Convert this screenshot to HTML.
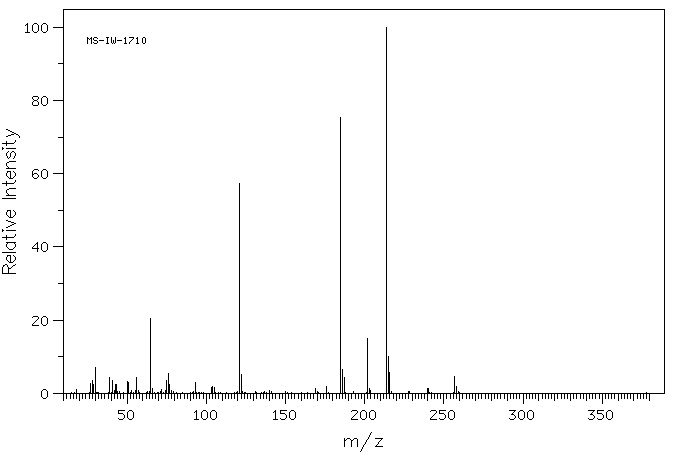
<!DOCTYPE html>
<html lang="en"><head><meta charset="utf-8">
<title>MS-IW-1710 mass spectrum</title>
<style>
html,body{margin:0;padding:0;background:#fff;overflow:hidden;font-family:"Liberation Sans",sans-serif}
svg{display:block}
svg text{font-family:"Liberation Sans",sans-serif;font-size:12px;fill:#000;fill-opacity:0;stroke:none}
</style>
</head><body>
<svg width="676" height="455" viewBox="0 0 676 455" shape-rendering="crispEdges">
<title>Mass spectrum MS-IW-1710: Relative Intensity vs m/z</title>
<rect width="676" height="455" fill="#fff"/>
<path fill="#000" d="M63 9h602v1h-602zM63 10h1v391h-1zM664 10h1v384h-1zM27 23h1v10h-1zM34 23h3v1h-3zM43 23h3v1h-3zM26 24h1v1h-1zM33 24h1v1h-1zM37 24h1v1h-1zM42 24h1v1h-1zM46 24h1v1h-1zM25 25h1v1h-1zM32 25h1v6h-1zM38 25h1v6h-1zM41 25h1v6h-1zM47 25h1v6h-1zM53 27h10v1h-10zM386 27h1v372h-1zM33 31h1v1h-1zM37 31h1v1h-1zM42 31h1v1h-1zM46 31h1v1h-1zM25 32h2v1h-2zM28 32h2v1h-2zM34 32h3v1h-3zM43 32h3v1h-3zM87 37h1v7h-1zM91 37h1v7h-1zM94 37h3v1h-3zM106 37h3v1h-3zM111 37h1v6h-1zM115 37h1v6h-1zM125 37h1v7h-1zM129 37h5v1h-5zM137 37h1v7h-1zM143 37h2v1h-2zM88 38h1v1h-1zM90 38h1v1h-1zM93 38h1v2h-1zM97 38h1v1h-1zM107 38h1v6h-1zM124 38h1v1h-1zM133 38h1v1h-1zM136 38h1v1h-1zM142 38h1v5h-1zM145 38h1v5h-1zM89 39h1v1h-1zM132 39h1v1h-1zM94 40h3v1h-3zM99 40h5v1h-5zM113 40h1v3h-1zM117 40h5v1h-5zM131 40h1v1h-1zM97 41h1v2h-1zM130 41h1v1h-1zM93 42h1v1h-1zM129 42h1v2h-1zM94 43h3v1h-3zM106 43h1v1h-1zM108 43h1v1h-1zM112 43h1v1h-1zM114 43h1v1h-1zM124 43h1v1h-1zM126 43h1v1h-1zM136 43h1v1h-1zM138 43h1v1h-1zM143 43h2v1h-2zM58 63h5v1h-5zM33 96h5v1h-5zM43 96h3v1h-3zM32 97h1v2h-1zM38 97h1v2h-1zM42 97h1v1h-1zM46 97h1v1h-1zM41 98h1v6h-1zM47 98h1v6h-1zM33 99h1v1h-1zM37 99h1v1h-1zM34 100h3v1h-3zM53 100h10v1h-10zM33 101h1v1h-1zM37 101h1v1h-1zM32 102h1v3h-1zM38 102h1v3h-1zM42 104h1v1h-1zM46 104h1v1h-1zM33 105h5v1h-5zM43 105h3v1h-3zM340 117h1v277h-1zM6 129h2v1h-2zM8 130h2v1h-2zM10 131h2v1h-2zM12 132h2v1h-2zM14 133h2v1h-2zM11 134h3v1h-3zM16 134h2v1h-2zM8 135h3v1h-3zM18 135h1v1h-1zM6 136h2v1h-2zM19 136h1v2h-1zM58 137h5v1h-5zM15 140h1v2h-1zM6 141h1v5h-1zM14 142h1v1h-1zM2 143h4v1h-4zM7 143h7v1h-7zM2 147h1v3h-1zM3 148h1v1h-1zM6 148h10v1h-10zM8 151h1v1h-1zM12 151h2v1h-2zM7 152h1v1h-1zM11 152h1v1h-1zM14 152h1v1h-1zM6 153h1v3h-1zM10 153h1v4h-1zM15 153h1v3h-1zM7 156h1v2h-1zM14 156h1v2h-1zM9 157h1v1h-1zM8 158h1v1h-1zM13 158h1v1h-1zM9 161h7v1h-7zM7 162h2v1h-2zM6 163h1v3h-1zM7 166h1v1h-1zM8 167h1v2h-1zM6 168h2v1h-2zM9 168h7v1h-7zM34 169h4v1h-4zM43 169h3v1h-3zM33 170h1v1h-1zM38 170h1v1h-1zM42 170h1v1h-1zM46 170h1v1h-1zM7 171h4v1h-4zM13 171h1v1h-1zM32 171h1v6h-1zM41 171h1v6h-1zM47 171h1v6h-1zM7 172h1v1h-1zM10 172h1v7h-1zM14 172h1v1h-1zM6 173h1v3h-1zM15 173h1v3h-1zM34 173h3v1h-3zM53 173h10v1h-10zM33 174h1v1h-1zM37 174h1v1h-1zM38 175h1v2h-1zM7 176h1v1h-1zM14 176h1v1h-1zM8 177h1v1h-1zM13 177h1v1h-1zM33 177h1v1h-1zM37 177h1v1h-1zM42 177h1v1h-1zM46 177h1v1h-1zM9 178h1v1h-1zM11 178h2v1h-2zM34 178h3v1h-3zM43 178h3v1h-3zM15 180h1v2h-1zM6 181h1v5h-1zM14 182h1v1h-1zM2 183h4v1h-4zM7 183h7v1h-7zM239 183h1v211h-1zM9 188h7v1h-7zM7 189h2v1h-2zM6 190h1v3h-1zM7 193h1v1h-1zM8 194h1v2h-1zM6 195h2v1h-2zM9 195h7v1h-7zM2 198h14v1h-14zM7 210h4v1h-4zM13 210h1v1h-1zM58 210h5v1h-5zM7 211h1v1h-1zM10 211h1v7h-1zM14 211h1v1h-1zM6 212h1v3h-1zM15 212h1v3h-1zM7 215h1v1h-1zM14 215h1v1h-1zM8 216h1v1h-1zM13 216h1v1h-1zM9 217h1v1h-1zM11 217h2v1h-2zM6 220h2v1h-2zM8 221h3v1h-3zM11 222h3v1h-3zM14 223h2v1h-2zM12 224h2v1h-2zM10 225h2v1h-2zM8 226h2v1h-2zM6 227h2v1h-2zM2 229h1v3h-1zM3 230h1v1h-1zM6 230h10v1h-10zM15 234h1v2h-1zM6 235h1v5h-1zM14 236h1v1h-1zM2 237h4v1h-4zM7 237h7v1h-7zM6 242h10v1h-10zM37 242h1v10h-1zM43 242h3v1h-3zM7 243h1v1h-1zM14 243h1v1h-1zM36 243h1v1h-1zM42 243h1v1h-1zM46 243h1v1h-1zM6 244h1v3h-1zM15 244h1v3h-1zM35 244h1v1h-1zM41 244h1v6h-1zM47 244h1v6h-1zM34 245h1v1h-1zM33 246h1v1h-1zM53 246h10v1h-10zM7 247h1v1h-1zM14 247h1v1h-1zM32 247h1v2h-1zM8 248h1v1h-1zM13 248h1v1h-1zM33 248h4v1h-4zM38 248h1v1h-1zM9 249h4v1h-4zM42 250h1v1h-1zM46 250h1v1h-1zM43 251h3v1h-3zM2 252h14v1h-14zM7 255h4v1h-4zM13 255h1v1h-1zM7 256h1v1h-1zM10 256h1v7h-1zM14 256h1v1h-1zM6 257h1v3h-1zM15 257h1v3h-1zM7 260h1v1h-1zM14 260h1v1h-1zM8 261h1v1h-1zM13 261h1v1h-1zM9 262h1v1h-1zM11 262h2v1h-2zM5 264h2v1h-2zM15 264h1v1h-1zM3 265h2v1h-2zM7 265h1v2h-1zM13 265h2v1h-2zM3 266h1v1h-1zM12 266h1v1h-1zM2 267h1v7h-1zM8 267h1v7h-1zM11 267h1v1h-1zM9 268h2v1h-2zM3 273h5v1h-5zM9 273h7v1h-7zM58 283h5v1h-5zM33 316h5v1h-5zM43 316h3v1h-3zM32 317h1v1h-1zM38 317h1v2h-1zM42 317h1v1h-1zM46 317h1v1h-1zM41 318h1v6h-1zM47 318h1v6h-1zM150 318h1v76h-1zM37 319h1v1h-1zM36 320h1v1h-1zM53 320h10v1h-10zM35 321h1v1h-1zM34 322h1v1h-1zM33 323h1v1h-1zM32 324h1v2h-1zM42 324h1v1h-1zM46 324h1v1h-1zM33 325h6v1h-6zM43 325h3v1h-3zM367 338h1v61h-1zM58 356h5v1h-5zM388 356h1v38h-1zM95 367h1v34h-1zM342 369h1v30h-1zM389 372h1v27h-1zM168 373h1v26h-1zM241 374h1v25h-1zM454 376h1v18h-1zM109 377h1v17h-1zM136 377h1v22h-1zM344 377h1v17h-1zM92 380h1v19h-1zM112 380h1v14h-1zM166 380h1v14h-1zM127 381h1v23h-1zM128 382h1v12h-1zM195 382h1v12h-1zM90 383h1v11h-1zM93 384h1v10h-1zM115 384h1v10h-1zM116 384h1v10h-1zM169 384h1v10h-1zM212 386h1v13h-1zM326 386h1v13h-1zM456 386h1v13h-1zM211 387h1v7h-1zM214 387h1v7h-1zM152 388h1v11h-1zM315 388h1v6h-1zM369 388h1v6h-1zM427 388h1v13h-1zM428 388h1v6h-1zM43 389h3v1h-3zM76 389h1v10h-1zM161 389h1v10h-1zM42 390h1v1h-1zM46 390h1v1h-1zM114 390h1v9h-1zM131 390h1v4h-1zM135 390h1v4h-1zM138 390h1v4h-1zM165 390h1v9h-1zM171 390h1v9h-1zM269 390h1v11h-1zM370 390h1v9h-1zM41 391h1v6h-1zM47 391h1v6h-1zM117 391h1v8h-1zM119 391h1v3h-1zM147 391h1v3h-1zM149 391h1v8h-1zM160 391h1v3h-1zM173 391h1v3h-1zM193 391h1v8h-1zM237 391h1v10h-1zM242 391h1v3h-1zM255 391h1v3h-1zM264 391h1v3h-1zM271 391h1v3h-1zM285 391h1v13h-1zM317 391h1v10h-1zM353 391h1v3h-1zM391 391h1v3h-1zM408 391h1v8h-1zM409 391h1v3h-1zM458 391h1v3h-1zM71 392h1v2h-1zM74 392h1v2h-1zM89 392h1v7h-1zM96 392h3v1h-3zM108 392h1v7h-1zM111 392h1v9h-1zM123 392h1v7h-1zM130 392h1v7h-1zM133 392h1v7h-1zM139 392h1v7h-1zM146 392h1v7h-1zM154 392h1v2h-1zM157 392h2v1h-2zM163 392h1v2h-1zM176 392h1v2h-1zM182 392h1v2h-1zM190 392h1v9h-1zM192 392h1v2h-1zM196 392h1v7h-1zM198 392h2v1h-2zM201 392h1v2h-1zM203 392h1v7h-1zM215 392h1v7h-1zM218 392h1v7h-1zM220 392h1v2h-1zM226 392h1v2h-1zM234 392h1v7h-1zM236 392h1v2h-1zM244 392h1v7h-1zM245 392h1v2h-1zM256 392h1v7h-1zM261 392h1v2h-1zM263 392h1v7h-1zM266 392h1v7h-1zM287 392h1v2h-1zM291 392h1v7h-1zM301 392h1v9h-1zM307 392h1v7h-1zM318 392h1v2h-1zM328 392h1v2h-1zM345 392h1v7h-1zM366 392h1v2h-1zM429 392h1v2h-1zM431 392h1v7h-1zM453 392h1v7h-1zM459 392h1v9h-1zM646 392h1v7h-1zM53 393h10v1h-10zM64 393h7v1h-7zM72 393h2v1h-2zM75 393h1v1h-1zM77 393h12v1h-12zM91 393h1v1h-1zM94 393h1v1h-1zM96 393h12v1h-12zM110 393h1v1h-1zM113 393h1v1h-1zM118 393h1v1h-1zM120 393h1v6h-1zM121 393h2v1h-2zM124 393h3v1h-3zM129 393h1v1h-1zM132 393h1v1h-1zM134 393h1v1h-1zM137 393h1v1h-1zM140 393h6v1h-6zM148 393h1v1h-1zM151 393h1v1h-1zM153 393h1v1h-1zM155 393h1v6h-1zM156 393h4v1h-4zM162 393h1v1h-1zM164 393h1v1h-1zM167 393h1v1h-1zM170 393h1v1h-1zM172 393h1v1h-1zM174 393h1v8h-1zM175 393h1v1h-1zM177 393h1v6h-1zM178 393h4v1h-4zM183 393h7v1h-7zM191 393h1v1h-1zM194 393h1v1h-1zM197 393h4v1h-4zM202 393h1v1h-1zM204 393h7v1h-7zM213 393h1v1h-1zM216 393h2v1h-2zM219 393h1v1h-1zM221 393h5v1h-5zM227 393h7v1h-7zM235 393h1v1h-1zM238 393h1v1h-1zM240 393h1v1h-1zM243 393h1v1h-1zM246 393h9v1h-9zM257 393h4v1h-4zM262 393h1v1h-1zM265 393h1v1h-1zM267 393h2v1h-2zM270 393h1v1h-1zM272 393h13v1h-13zM286 393h1v1h-1zM288 393h1v6h-1zM289 393h2v1h-2zM292 393h9v1h-9zM302 393h5v1h-5zM308 393h7v1h-7zM316 393h1v1h-1zM319 393h7v1h-7zM327 393h1v1h-1zM329 393h11v1h-11zM341 393h1v1h-1zM343 393h1v1h-1zM346 393h7v1h-7zM354 393h12v1h-12zM368 393h1v1h-1zM371 393h15v1h-15zM387 393h1v1h-1zM390 393h1v1h-1zM392 393h16v1h-16zM410 393h17v1h-17zM430 393h1v1h-1zM432 393h21v1h-21zM455 393h1v1h-1zM457 393h1v1h-1zM460 393h186v1h-186zM647 393h17v1h-17zM66 394h1v5h-1zM70 394h1v5h-1zM73 394h1v5h-1zM79 394h1v7h-1zM82 394h1v5h-1zM85 394h1v5h-1zM98 394h1v5h-1zM101 394h1v5h-1zM104 394h1v5h-1zM142 394h1v7h-1zM158 394h1v7h-1zM180 394h1v5h-1zM184 394h1v5h-1zM187 394h1v5h-1zM199 394h1v5h-1zM206 394h1v10h-1zM209 394h1v5h-1zM222 394h1v7h-1zM225 394h1v5h-1zM228 394h1v5h-1zM231 394h1v5h-1zM247 394h1v5h-1zM250 394h1v5h-1zM253 394h1v7h-1zM260 394h1v5h-1zM272 394h1v5h-1zM275 394h1v5h-1zM279 394h1v5h-1zM282 394h1v5h-1zM294 394h1v5h-1zM298 394h1v5h-1zM304 394h1v5h-1zM310 394h1v5h-1zM313 394h1v5h-1zM320 394h1v5h-1zM323 394h1v5h-1zM329 394h1v5h-1zM332 394h1v7h-1zM336 394h1v5h-1zM339 394h1v5h-1zM348 394h1v7h-1zM351 394h1v5h-1zM355 394h1v5h-1zM358 394h1v5h-1zM361 394h1v5h-1zM364 394h1v10h-1zM374 394h1v5h-1zM377 394h1v5h-1zM380 394h1v7h-1zM383 394h1v5h-1zM393 394h1v5h-1zM396 394h1v7h-1zM399 394h1v5h-1zM402 394h1v5h-1zM405 394h1v5h-1zM412 394h1v7h-1zM415 394h1v5h-1zM418 394h1v5h-1zM421 394h1v5h-1zM424 394h1v5h-1zM434 394h1v5h-1zM437 394h1v5h-1zM440 394h1v5h-1zM443 394h1v10h-1zM446 394h1v5h-1zM450 394h1v5h-1zM462 394h1v5h-1zM466 394h1v5h-1zM469 394h1v5h-1zM472 394h1v5h-1zM475 394h1v7h-1zM478 394h1v5h-1zM481 394h1v5h-1zM485 394h1v5h-1zM488 394h1v5h-1zM491 394h1v7h-1zM494 394h1v5h-1zM497 394h1v5h-1zM500 394h1v5h-1zM504 394h1v5h-1zM507 394h1v7h-1zM510 394h1v5h-1zM513 394h1v5h-1zM516 394h1v5h-1zM519 394h1v5h-1zM523 394h1v10h-1zM526 394h1v5h-1zM529 394h1v5h-1zM532 394h1v5h-1zM535 394h1v5h-1zM538 394h1v7h-1zM542 394h1v5h-1zM545 394h1v5h-1zM548 394h1v5h-1zM551 394h1v5h-1zM554 394h1v7h-1zM557 394h1v5h-1zM561 394h1v5h-1zM564 394h1v5h-1zM567 394h1v5h-1zM570 394h1v7h-1zM573 394h1v5h-1zM576 394h1v5h-1zM580 394h1v5h-1zM583 394h1v5h-1zM586 394h1v7h-1zM589 394h1v5h-1zM592 394h1v5h-1zM595 394h1v5h-1zM599 394h1v5h-1zM602 394h1v10h-1zM605 394h1v5h-1zM608 394h1v5h-1zM611 394h1v5h-1zM614 394h1v5h-1zM618 394h1v7h-1zM621 394h1v5h-1zM624 394h1v5h-1zM627 394h1v5h-1zM630 394h1v5h-1zM633 394h1v7h-1zM637 394h1v5h-1zM640 394h1v5h-1zM643 394h1v5h-1zM649 394h1v7h-1zM42 397h1v1h-1zM46 397h1v1h-1zM43 398h3v1h-3zM118 410h7v1h-7zM129 410h3v1h-3zM196 410h1v10h-1zM203 410h3v1h-3zM212 410h3v1h-3zM275 410h1v10h-1zM280 410h7v1h-7zM291 410h3v1h-3zM352 410h5v1h-5zM362 410h3v1h-3zM371 410h3v1h-3zM431 410h5v1h-5zM439 410h7v1h-7zM450 410h3v1h-3zM509 410h7v1h-7zM520 410h3v1h-3zM529 410h3v1h-3zM588 410h7v1h-7zM597 410h7v1h-7zM608 410h3v1h-3zM118 411h1v3h-1zM128 411h1v1h-1zM132 411h1v1h-1zM195 411h1v1h-1zM202 411h1v1h-1zM206 411h1v1h-1zM211 411h1v1h-1zM215 411h1v1h-1zM274 411h1v1h-1zM280 411h1v3h-1zM290 411h1v1h-1zM294 411h1v1h-1zM351 411h1v1h-1zM357 411h1v2h-1zM361 411h1v1h-1zM365 411h1v1h-1zM370 411h1v1h-1zM374 411h1v1h-1zM430 411h1v1h-1zM436 411h1v2h-1zM439 411h1v3h-1zM449 411h1v1h-1zM453 411h1v1h-1zM514 411h1v1h-1zM519 411h1v1h-1zM523 411h1v1h-1zM528 411h1v1h-1zM532 411h1v1h-1zM593 411h1v1h-1zM597 411h1v3h-1zM607 411h1v1h-1zM611 411h1v1h-1zM127 412h1v6h-1zM133 412h1v6h-1zM194 412h1v1h-1zM201 412h1v6h-1zM207 412h1v6h-1zM210 412h1v6h-1zM216 412h1v6h-1zM273 412h1v1h-1zM289 412h1v6h-1zM295 412h1v6h-1zM360 412h1v6h-1zM366 412h1v6h-1zM369 412h1v6h-1zM375 412h1v6h-1zM448 412h1v6h-1zM454 412h1v6h-1zM513 412h1v1h-1zM518 412h1v6h-1zM524 412h1v6h-1zM527 412h1v6h-1zM533 412h1v6h-1zM592 412h1v1h-1zM606 412h1v6h-1zM612 412h1v6h-1zM119 413h4v1h-4zM281 413h4v1h-4zM356 413h1v1h-1zM435 413h1v1h-1zM440 413h4v1h-4zM512 413h1v2h-1zM591 413h1v2h-1zM598 413h4v1h-4zM123 414h1v1h-1zM285 414h1v1h-1zM355 414h1v1h-1zM434 414h1v1h-1zM444 414h1v1h-1zM511 414h1v1h-1zM513 414h1v1h-1zM590 414h1v1h-1zM592 414h1v1h-1zM602 414h1v1h-1zM124 415h1v3h-1zM286 415h1v3h-1zM354 415h1v1h-1zM433 415h1v1h-1zM445 415h1v3h-1zM514 415h1v1h-1zM593 415h1v1h-1zM603 415h1v3h-1zM353 416h1v1h-1zM432 416h1v1h-1zM515 416h1v2h-1zM594 416h1v2h-1zM352 417h1v1h-1zM431 417h1v1h-1zM118 418h1v1h-1zM123 418h1v1h-1zM128 418h1v1h-1zM132 418h1v1h-1zM202 418h1v1h-1zM206 418h1v1h-1zM211 418h1v1h-1zM215 418h1v1h-1zM280 418h1v1h-1zM285 418h1v1h-1zM290 418h1v1h-1zM294 418h1v1h-1zM351 418h1v2h-1zM361 418h1v1h-1zM365 418h1v1h-1zM370 418h1v1h-1zM374 418h1v1h-1zM430 418h1v2h-1zM439 418h1v1h-1zM444 418h1v1h-1zM449 418h1v1h-1zM453 418h1v1h-1zM509 418h1v1h-1zM514 418h1v1h-1zM519 418h1v1h-1zM523 418h1v1h-1zM528 418h1v1h-1zM532 418h1v1h-1zM588 418h1v1h-1zM593 418h1v1h-1zM597 418h1v1h-1zM602 418h1v1h-1zM607 418h1v1h-1zM611 418h1v1h-1zM119 419h4v1h-4zM129 419h3v1h-3zM194 419h2v1h-2zM197 419h2v1h-2zM203 419h3v1h-3zM212 419h3v1h-3zM273 419h2v1h-2zM276 419h2v1h-2zM281 419h4v1h-4zM291 419h3v1h-3zM352 419h6v1h-6zM362 419h3v1h-3zM371 419h3v1h-3zM431 419h6v1h-6zM440 419h4v1h-4zM450 419h3v1h-3zM510 419h4v1h-4zM520 419h3v1h-3zM529 419h3v1h-3zM589 419h4v1h-4zM598 419h4v1h-4zM608 419h3v1h-3zM371 432h1v1h-1zM370 433h1v2h-1zM369 435h1v2h-1zM368 437h1v2h-1zM344 438h1v9h-1zM347 438h3v1h-3zM354 438h3v1h-3zM375 438h8v1h-8zM346 439h1v1h-1zM350 439h1v1h-1zM353 439h1v1h-1zM357 439h1v8h-1zM367 439h1v1h-1zM381 439h1v1h-1zM345 440h1v1h-1zM351 440h1v7h-1zM352 440h1v1h-1zM366 440h1v2h-1zM380 440h1v1h-1zM379 441h1v1h-1zM365 442h1v2h-1zM378 442h1v2h-1zM364 444h1v1h-1zM377 444h1v1h-1zM363 445h1v2h-1zM376 445h1v2h-1zM375 446h1v1h-1zM377 446h6v1h-6zM362 447h1v2h-1zM361 449h1v2h-1zM360 451h1v1h-1z"/>
<g aria-hidden="false">
<text x="48" y="399" text-anchor="end">0</text>
<text x="48" y="326" text-anchor="end">20</text>
<text x="48" y="252" text-anchor="end">40</text>
<text x="48" y="179" text-anchor="end">60</text>
<text x="48" y="106" text-anchor="end">80</text>
<text x="48" y="33" text-anchor="end">100</text>
<text x="127" y="420" text-anchor="middle">50</text>
<text x="206" y="420" text-anchor="middle">100</text>
<text x="285" y="420" text-anchor="middle">150</text>
<text x="364" y="420" text-anchor="middle">200</text>
<text x="443" y="420" text-anchor="middle">250</text>
<text x="523" y="420" text-anchor="middle">300</text>
<text x="602" y="420" text-anchor="middle">350</text>
<text x="363" y="447" text-anchor="middle" font-size="15">m/z</text>
<text transform="translate(16,203) rotate(-90)" text-anchor="middle" font-size="15">Relative Intensity</text>
<text x="87" y="44" font-family="'Liberation Mono',monospace" font-size="10">MS-IW-1710</text>
</g>
</svg>
</body></html>
